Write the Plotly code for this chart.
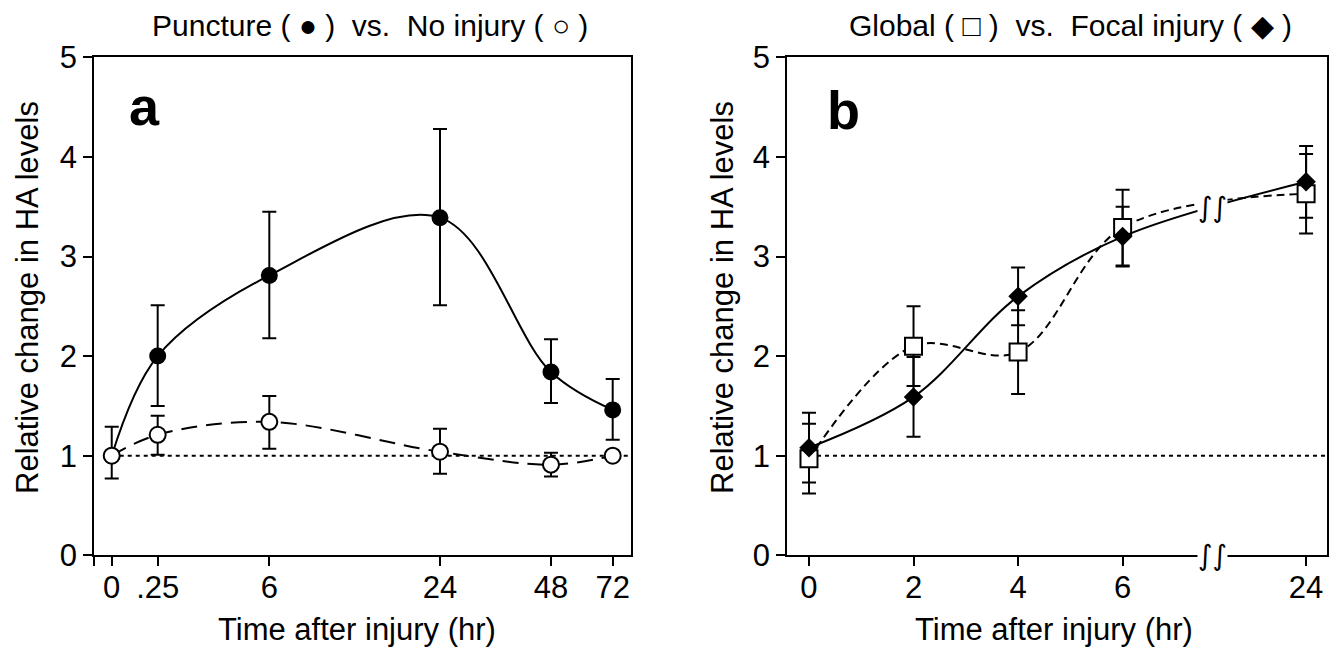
import plotly.graph_objects as go

# ---------------- data ----------------
# Panel a: Puncture vs. No injury
TIME_A_LABELS = ["0", ".25", "6", "24", "48", "72"]
PUNCTURE = [1.00, 2.00, 2.81, 3.39, 1.84, 1.46]
PUNCTURE_ERR_UP = [0.00, 0.51, 0.64, 0.89, 0.33, 0.31]
PUNCTURE_ERR_DN = [0.00, 0.50, 0.63, 0.88, 0.31, 0.30]
NO_INJURY = [1.00, 1.21, 1.34, 1.04, 0.91, 1.00]
NO_INJURY_ERR_UP = [0.29, 0.19, 0.26, 0.23, 0.12, 0.00]
NO_INJURY_ERR_DN = [0.23, 0.20, 0.27, 0.22, 0.12, 0.00]

# Panel b: Global vs. Focal injury
TIME_B = [0, 2, 4, 6, 24]
TIME_B_LABELS = ["0", "2", "4", "6", "24"]
GLOBAL = [0.97, 2.10, 2.04, 3.29, 3.63]
GLOBAL_ERR = [0.35, 0.40, 0.42, 0.38, 0.40]
FOCAL = [1.08, 1.59, 2.60, 3.20, 3.75]
FOCAL_ERR = [0.35, 0.40, 0.29, 0.30, 0.36]

BASELINE = 1.0
Y_TICKS = [0, 1, 2, 3, 4, 5]

# ---------------- layout helpers ----------------
PAGE_MARGIN = 8            # default body margin of the html page
W, H = 1341 - 2 * PAGE_MARGIN, 656 - 2 * PAGE_MARGIN
FONT = "Arial, Liberation Sans, Helvetica, sans-serif"

# slot positions of the uneven time axis in panel a (axis units 0..100)
A_RANGE = [0, 100]
A_SLOTS = [3.25, 11.82, 32.64, 64.47, 85.17, 96.68]

# broken time axis in panel b: linear up to 6, then a break, then 24
B_RANGE = [-0.415, 9.91]
B_BREAK = 7.71
B_AFTER_BREAK = 9.51


def b_pos(t):
    return t if t <= 6 else B_AFTER_BREAK


XB = [b_pos(t) for t in TIME_B]


def px(x):
    return (x - PAGE_MARGIN) / W


def py(y):
    return 1 - (y - PAGE_MARGIN) / H


dom_y = [py(555.3), py(57.3)]
dom_xa = [px(94.3), px(630.5)]
dom_xb = [px(787.3), px(1327.0)]

fig = go.Figure()

# ---------- panel a ----------
fig.add_trace(go.Scatter(
    x=A_SLOTS, y=PUNCTURE, mode="lines+markers", xaxis="x", yaxis="y",
    line=dict(color="black", width=2, shape="spline", smoothing=1.0),
    marker=dict(symbol="circle", size=17, color="black"),
    error_y=dict(type="data", array=PUNCTURE_ERR_UP, arrayminus=PUNCTURE_ERR_DN,
                 color="black", thickness=2, width=7),
    showlegend=False))
fig.add_trace(go.Scatter(
    x=A_SLOTS, y=NO_INJURY, mode="lines+markers", xaxis="x", yaxis="y",
    line=dict(color="black", width=2, shape="spline", smoothing=1.0, dash="16px,9px"),
    marker=dict(symbol="circle", size=16, color="white", line=dict(color="black", width=2)),
    error_y=dict(type="data", array=NO_INJURY_ERR_UP, arrayminus=NO_INJURY_ERR_DN,
                 color="black", thickness=2, width=7),
    showlegend=False))

# ---------- panel b ----------
# focal error bars underneath
fig.add_trace(go.Scatter(
    x=XB, y=FOCAL, mode="markers", xaxis="x2", yaxis="y2",
    marker=dict(size=1, color="rgba(0,0,0,0)"),
    error_y=dict(type="data", array=FOCAL_ERR, color="black", thickness=2, width=7),
    showlegend=False, hoverinfo="skip"))
fig.add_trace(go.Scatter(
    x=XB, y=GLOBAL, mode="lines+markers", xaxis="x2", yaxis="y2",
    line=dict(color="black", width=2, shape="spline", smoothing=1.0, dash="8px,5px"),
    marker=dict(symbol="square", size=17, color="white", line=dict(color="black", width=2)),
    error_y=dict(type="data", array=GLOBAL_ERR, color="black", thickness=2, width=7),
    showlegend=False))
fig.add_trace(go.Scatter(
    x=XB, y=FOCAL, mode="lines+markers", xaxis="x2", yaxis="y2",
    line=dict(color="black", width=2, shape="spline", smoothing=1.0),
    marker=dict(symbol="diamond", size=15, color="black"),
    showlegend=False))

axis_common = dict(showline=True, linecolor="black", linewidth=2, mirror=True,
                   ticks="outside", ticklen=9, tickwidth=2, tickcolor="black",
                   showgrid=False, zeroline=False, automargin=False,
                   tickfont=dict(family=FONT, size=31, color="black"))

fig.update_layout(
    width=W, height=H,
    margin=dict(l=0, r=0, t=0, b=0, autoexpand=False),
    paper_bgcolor="white", plot_bgcolor="white",
    xaxis=dict(domain=dom_xa, range=A_RANGE, anchor="y",
               tickvals=[A_RANGE[0]] + A_SLOTS, ticktext=[""] + TIME_A_LABELS,
               ticklabelstandoff=-6, **axis_common),
    yaxis=dict(domain=dom_y, range=[0, 5], anchor="x", tickvals=Y_TICKS,
               ticklabelstandoff=0, **axis_common),
    xaxis2=dict(domain=dom_xb, range=B_RANGE, anchor="y2",
                tickvals=XB, ticktext=TIME_B_LABELS,
                ticklabelstandoff=-6, **axis_common),
    yaxis2=dict(domain=dom_y, range=[0, 5], anchor="x2", tickvals=Y_TICKS,
                ticklabelstandoff=0, **axis_common),
    shapes=[
        dict(type="line", xref="x", yref="y", x0=A_SLOTS[0], x1=A_RANGE[1],
             y0=BASELINE, y1=BASELINE, line=dict(color="black", width=2, dash="4px,4px"),
             layer="below"),
        dict(type="line", xref="x2", yref="y2", x0=XB[0], x1=B_RANGE[1],
             y0=BASELINE, y1=BASELINE, line=dict(color="black", width=2, dash="4px,4px"),
             layer="below"),
    ],
)

ann = []
txt = dict(family=FONT, size=30, color="black")
ann.append(dict(text="Puncture ( ● )  vs.  No injury ( ○ )",
                x=px(370), y=1.0,
                xref="paper", yref="paper", showarrow=False, font=txt,
                xanchor="center", yanchor="top", borderpad=0))
ann.append(dict(text="Global ( □ )  vs.  Focal injury ( ◆ )",
                x=px(1070), y=1.0,
                xref="paper", yref="paper", showarrow=False, font=txt,
                xanchor="center", yanchor="top", borderpad=0))
ttl = dict(family=FONT, size=31, color="black")
for cx in (357, 1054):
    ann.append(dict(text="Time after injury (hr)", x=px(cx), y=0.0,
                    xref="paper", yref="paper", showarrow=False, font=ttl,
                    xanchor="center", yanchor="bottom", borderpad=0))
for cx in (27, 722):
    ann.append(dict(text="Relative change in HA levels", x=px(cx), y=py(298),
                    xref="paper", yref="paper", showarrow=False, font=ttl,
                    textangle=-90, xanchor="center", yanchor="middle"))
letter = dict(family=FONT, size=54, color="black")
ann.append(dict(text="<b>a</b>", x=px(144), y=py(106), xref="paper", yref="paper",
                showarrow=False, font=letter, xanchor="center", yanchor="middle"))
ann.append(dict(text="<b>b</b>", x=px(843), y=py(110), xref="paper", yref="paper",
                showarrow=False, font=letter, xanchor="center", yanchor="middle"))
# axis break marks
brk = dict(family="DejaVu Sans", size=28, color="black")
ann.append(dict(text="<i>∫∫</i>", x=B_BREAK, y=0, xref="x2", yref="y2", showarrow=False,
                font=brk, bgcolor="white", borderpad=0, xanchor="center", yanchor="middle"))
ann.append(dict(text="<i>∫∫</i>", x=B_BREAK, y=3.49, xref="x2", yref="y2", showarrow=False,
                font=brk, bgcolor="white", borderpad=0, xanchor="center", yanchor="middle"))
fig.update_layout(annotations=ann)

fig.write_html("out.html")
